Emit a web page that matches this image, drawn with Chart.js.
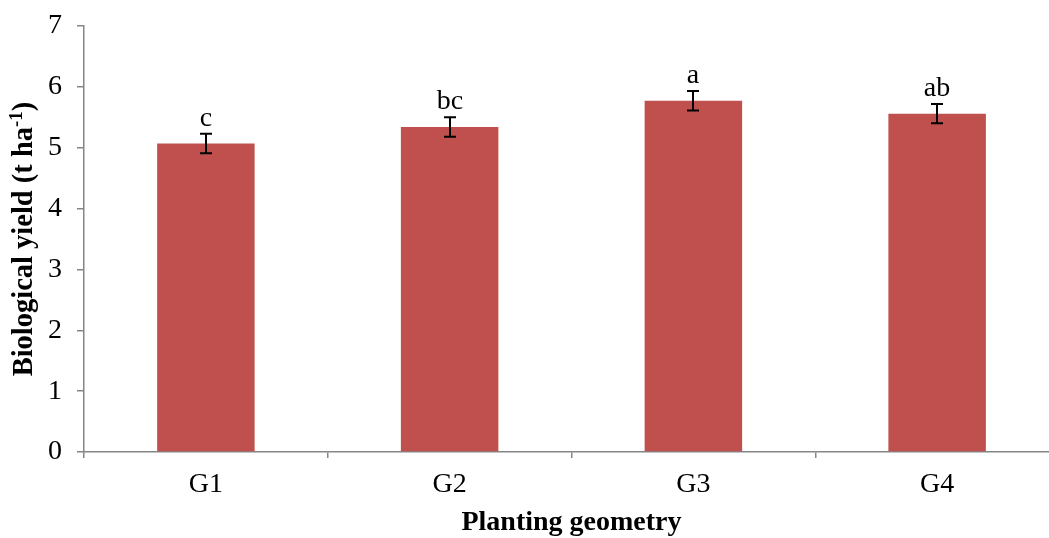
<!DOCTYPE html>
<html>
<head>
<meta charset="utf-8">
<script src="https://cdn.jsdelivr.net/npm/chart.js@4/dist/chart.umd.min.js"></script>
<style>
  html, body { margin: 0; padding: 0; background: #fff; overflow: hidden; }
  #wrap { position: relative; width: 1061px; height: 538px; }
</style>
</head>
<body>
<div id="wrap"><canvas id="c"></canvas></div>
<script>
// Planting geometry treatments
const categories = ['G1', 'G2', 'G3', 'G4'];
// Mean biological yield (t ha-1)
const yieldValues = [5.07, 5.34, 5.77, 5.56];
// Standard error of each mean
const yieldErrors = [0.16, 0.16, 0.16, 0.16];
// Mean separation letters
const letters = ['c', 'bc', 'a', 'ab'];
// Y axis tick range
const yMin = 0, yMax = 7, yStep = 1;

const SERIF = "'Liberation Serif', 'Times New Roman', serif";
const AXIS_GREY = '#868686';

// Draws error bars and significance letters above each bar
const errorBarPlugin = {
  id: 'errorBars',
  afterDatasetsDraw(chart) {
    const ctx = chart.ctx;
    const x = chart.scales.x, y = chart.scales.y;
    ctx.save();
    ctx.strokeStyle = '#000';
    ctx.lineWidth = 2;
    ctx.fillStyle = '#000';
    ctx.font = '28px ' + SERIF;
    ctx.textAlign = 'center';
    ctx.textBaseline = 'alphabetic';
    yieldValues.forEach((v, i) => {
      const cx = Math.round(x.getPixelForValue(i));
      const top = y.getPixelForValue(v + yieldErrors[i]);
      const bot = y.getPixelForValue(v - yieldErrors[i]);
      ctx.beginPath();
      ctx.moveTo(cx, top); ctx.lineTo(cx, bot);
      ctx.moveTo(cx - 6, top); ctx.lineTo(cx + 6, top);
      ctx.moveTo(cx - 6, bot); ctx.lineTo(cx + 6, bot);
      ctx.stroke();
      ctx.fillText(letters[i], cx, top - 8);
    });
    ctx.restore();
  }
};

// Axis titles (the y title carries a superscript unit)
const axisTitlePlugin = {
  id: 'axisTitles',
  afterDraw(chart) {
    const ctx = chart.ctx;
    const area = chart.chartArea;
    ctx.save();
    ctx.fillStyle = '#000';
    ctx.textBaseline = 'alphabetic';

    // x title
    ctx.font = 'bold 28px ' + SERIF;
    ctx.textAlign = 'center';
    ctx.fillText('Planting geometry', (area.left + area.right) / 2, 530);

    // y title, rotated
    const main = 'Biological yield (t ha';
    const sup = '-1';
    const tail = ')';
    const bigFont = 'bold 28.5px ' + SERIF;
    const supFont = 'bold 19px ' + SERIF;
    ctx.font = bigFont;
    const w1 = ctx.measureText(main).width;
    const w3 = ctx.measureText(tail).width;
    ctx.font = supFont;
    const w2 = ctx.measureText(sup).width;
    const total = w1 + w2 + w3;
    ctx.translate(32, (area.top + area.bottom) / 2);
    ctx.rotate(-Math.PI / 2);
    ctx.textAlign = 'left';
    let px = -total / 2;
    ctx.font = bigFont;
    ctx.fillText(main, px, 0);
    px += w1;
    ctx.font = supFont;
    ctx.fillText(sup, px, -10);
    px += w2;
    ctx.font = bigFont;
    ctx.fillText(tail, px, 0);
    ctx.restore();
  }
};

new Chart(document.getElementById('c'), {
  type: 'bar',
  data: {
    labels: categories,
    datasets: [{
      data: yieldValues,
      backgroundColor: '#C0504D',
      borderWidth: 0,
      barPercentage: 0.4,
      categoryPercentage: 1.0
    }]
  },
  options: {
    responsive: true,
    maintainAspectRatio: false,
    animation: false,
    devicePixelRatio: 1,
    layout: { padding: { top: 26, left: 0, right: 2, bottom: 0 } },
    plugins: {
      legend: { display: false },
      tooltip: { enabled: false },
      title: { display: false }
    },
    scales: {
      x: {
        grid: {
          offset: true,
          drawOnChartArea: false,
          drawTicks: true,
          tickLength: 6,
          color: AXIS_GREY,
          lineWidth: 1.5
        },
        border: { display: true, color: AXIS_GREY, width: 1.5 },
        ticks: {
          color: '#000',
          font: { family: SERIF, size: 28 },
          padding: 10,
          maxRotation: 0
        },
        afterFit(scale) {
          scale.height = 86;
          scale.paddingLeft = 0;
          scale.paddingRight = 0;
        }
      },
      y: {
        min: yMin,
        max: yMax,
        grid: {
          drawOnChartArea: false,
          drawTicks: true,
          tickLength: 7,
          color: AXIS_GREY,
          lineWidth: 1.5
        },
        border: { display: true, color: AXIS_GREY, width: 1.5 },
        ticks: {
          stepSize: yStep,
          color: '#000',
          font: { family: SERIF, size: 28 },
          padding: 15
        },
        afterFit(scale) {
          scale.width = 84;
          scale.paddingTop = 0;
          scale.paddingBottom = 0;
        }
      }
    }
  },
  plugins: [errorBarPlugin, axisTitlePlugin]
});
</script>
</body>
</html>
